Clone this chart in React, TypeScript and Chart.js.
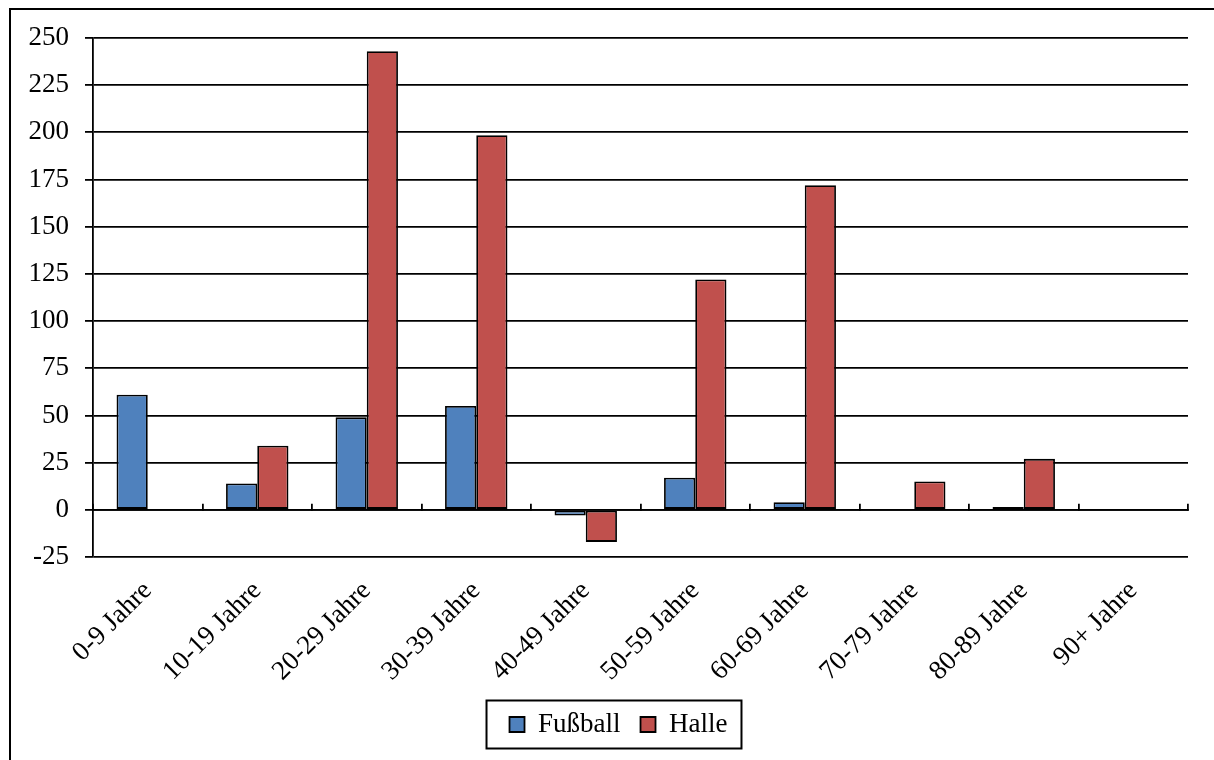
import { useEffect, useRef } from "react";
import { Chart, registerables } from "chart.js";

Chart.register(...registerables);

// Age groups on the category axis
const categories = [
  "0-9 Jahre",
  "10-19 Jahre",
  "20-29 Jahre",
  "30-39 Jahre",
  "40-49 Jahre",
  "50-59 Jahre",
  "60-69 Jahre",
  "70-79 Jahre",
  "80-89 Jahre",
  "90+ Jahre",
];

// Series values per age group (null = no bar)
const fussball: (number | null)[] = [61, 14, 49, 55, -3, 17, 4, 0.2, 1.5, null];
const halle: (number | null)[] = [null, 34, 243, 198.5, -17, 122, 172, 15, 27, null];

// Value axis range
const yMin = -25;
const yMax = 250;
const yStep = 25;

const FONT = "'Liberation Serif', 'Times New Roman', serif";
const FONT_SIZE = 27;

// Nudges the legend a little to the right and frames its entries
const legendFrame = {
  id: "legendFrame",
  afterLayout(chart: any) {
    const lg = chart.legend;
    if (!lg) return;
    lg.left += 19;
    lg.right += 19;
  },
  afterDraw(chart: any) {
    const lg = chart.legend;
    if (!lg || !lg.legendHitBoxes || !lg.legendHitBoxes.length) return;
    const hb = lg.legendHitBoxes;
    const left = Math.min(...hb.map((b: any) => b.left)) - 23;
    const right = Math.max(...hb.map((b: any) => b.left + b.width)) + 14;
    const mid = hb[0].top + hb[0].height / 2;
    const ctx = chart.ctx;
    ctx.save();
    ctx.strokeStyle = "#000";
    ctx.lineWidth = 2;
    ctx.strokeRect(left, mid - 24, right - left, 48);
    ctx.restore();
  },
};

export default function App() {
  const canvasRef = useRef<HTMLCanvasElement | null>(null);

  useEffect(() => {
    if (!canvasRef.current) return;
    const chart = new Chart(canvasRef.current, {
      type: "bar",
      data: {
        labels: categories,
        datasets: [
          {
            label: "Fußball",
            data: fussball,
            backgroundColor: "#4F81BD",
            borderColor: "#000",
            borderWidth: 1.8,
            borderSkipped: false,
            categoryPercentage: 0.57,
            barPercentage: 1,
          },
          {
            label: "Halle",
            data: halle,
            backgroundColor: "#C0504D",
            borderColor: "#000",
            borderWidth: 1.8,
            borderSkipped: false,
            categoryPercentage: 0.57,
            barPercentage: 1,
          },
        ],
      },
      options: {
        responsive: false,
        animation: false,
        layout: { padding: { left: 11, top: 38, right: 26, bottom: 12 } },
        plugins: {
          tooltip: { enabled: false },
          legend: {
            position: "bottom",
            labels: {
              boxWidth: 15,
              boxHeight: 15,
              padding: 20,
              color: "#000",
              font: { family: FONT, size: FONT_SIZE },
            },
          },
        },
        scales: {
          x: {
            type: "category",
            grid: { display: false, drawTicks: false },
            border: { display: false },
            ticks: {
              autoSkip: false,
              minRotation: 45,
              maxRotation: 45,
              padding: 18,
              color: "#000",
              font: { family: FONT, size: FONT_SIZE },
            },
            afterFit(scale: any) {
              scale.height = 134;
            },
          },
          x2: {
            type: "category",
            axis: "x",
            position: { y: 0 },
            offset: true,
            grid: {
              offset: true,
              drawOnChartArea: false,
              drawTicks: true,
              tickLength: -7,
              color: "#000",
              lineWidth: 1.8,
            },
            border: { display: true, color: "#000", width: 1.8 },
            ticks: { display: false },
          },
          y: {
            min: yMin,
            max: yMax,
            ticks: {
              stepSize: yStep,
              padding: 16,
              color: "#000",
              font: { family: FONT, size: FONT_SIZE },
            },
            grid: { color: "#000", lineWidth: 1.8, tickLength: 8 },
            border: { display: true, color: "#000", width: 1.8 },
            afterFit(scale: any) {
              scale.width = 82;
            },
          },
        },
      } as any,
      plugins: [legendFrame],
    });
    return () => chart.destroy();
  }, []);

  return (
    <div
      style={{
        position: "fixed",
        left: 0,
        top: 0,
        width: 1214,
        height: 760,
        overflow: "hidden",
        background: "#fff",
      }}
    >
      <div
        style={{
          position: "absolute",
          left: 9,
          top: 8,
          width: 1400,
          height: 1000,
          borderLeft: "2px solid #000",
          borderTop: "2px solid #000",
        }}
      />
      <canvas
        ref={canvasRef}
        width={1214}
        height={760}
        style={{ position: "absolute", left: 0, top: 0 }}
      />
    </div>
  );
}
